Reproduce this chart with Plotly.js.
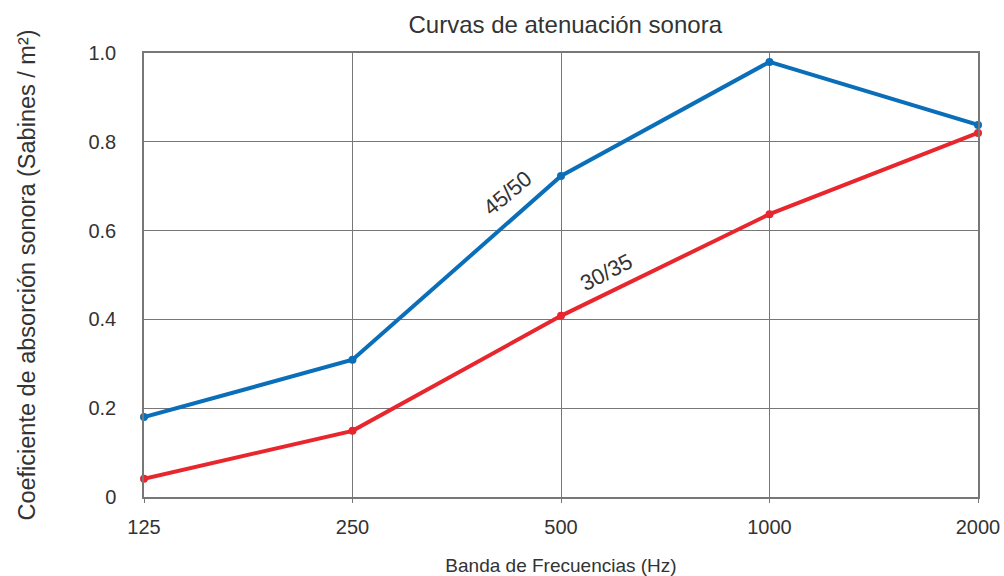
<!DOCTYPE html>
<html>
<head>
<meta charset="utf-8">
<script src="https://cdn.plot.ly/plotly-3.0.1.min.js"></script>
<style>html,body{margin:0;padding:0;background:#fff;}#chart{width:1004px;height:576px;}</style>
</head>
<body>
<div id="chart"></div>
<script>
const frequencies = ["125", "250", "500", "1000", "2000"];
const series4550 = [0.180, 0.309, 0.723, 0.980, 0.838];
const series3035 = [0.041, 0.149, 0.408, 0.637, 0.820];
const yTickVals = [0, 0.2, 0.4, 0.6, 0.8, 1.0];
const yTickText = ["0", "0.2", "0.4", "0.6", "0.8", "1.0"];
const seriesLabels = [
  {text: "45/50", xi: 2, y: 0.72, dx: -54, dy: -16, angle: -40},
  {text: "30/35", xi: 2, y: 0.41, dx: 45, dy: 42, angle: -27}
];

const fontFam = "Liberation Sans, Arial, sans-serif";
const traces = [
  {x: frequencies, y: series4550, type: "scatter", mode: "lines+markers",
   line: {color: "#0a6fb8", width: 4}, marker: {color: "#0a6fb8", size: 8}, cliponaxis: false},
  {x: frequencies, y: series3035, type: "scatter", mode: "lines+markers",
   line: {color: "#e8262d", width: 4}, marker: {color: "#e8262d", size: 8}, cliponaxis: false}
];
const annots = seriesLabels.map(function (l) {
  return {text: l.text, x: l.xi, y: l.y, xref: "x", yref: "y",
    xshift: l.dx, yshift: l.dy, showarrow: false, textangle: l.angle,
    font: {size: 22, color: "#333333", family: fontFam}};
});
const layout = {
  width: 1004, height: 576,
  margin: {l: 144, r: 26, t: 53, b: 79},
  showlegend: false,
  paper_bgcolor: "#fff", plot_bgcolor: "#fff",
  font: {family: fontFam, color: "#333", size: 18},
  title: {text: "Curvas de atenuación sonora", font: {size: 24, color: "#333", family: fontFam},
          x: 0.563, xanchor: "center", y: 0.958, yanchor: "middle"},
  xaxis: {type: "category", range: [0, 4], showgrid: true, gridcolor: "#777", gridwidth: 1,
          showline: true, linecolor: "#777", linewidth: 1.5, mirror: true,
          ticks: "outside", ticklen: 4, tickcolor: "#777", ticklabelstandoff: 7,
          tickfont: {size: 20, color: "#333"}, zeroline: false,
          title: {text: "Banda de Frecuencias (Hz)", font: {size: 19, color: "#333"}, standoff: 24}},
  yaxis: {range: [0, 1.0], tickvals: yTickVals, ticktext: yTickText,
          showgrid: true, gridcolor: "#777", gridwidth: 1,
          showline: true, linecolor: "#777", linewidth: 1.5, mirror: true,
          ticks: "", ticklabelstandoff: 22, zeroline: false,
          tickfont: {size: 20, color: "#333"},
          title: {text: "Coeficiente de absorción sonora (Sabines / m²)", font: {size: 23.5, color: "#333"}, standoff: 46}},
  annotations: annots
};
Plotly.newPlot("chart", traces, layout, {displayModeBar: false});
</script>
</body>
</html>
